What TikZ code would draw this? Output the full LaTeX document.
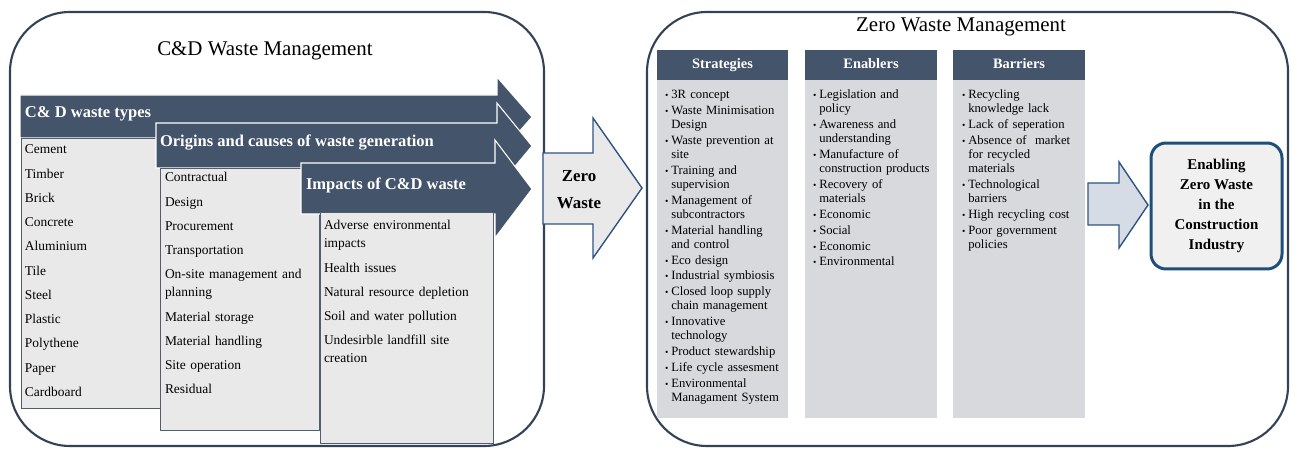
\documentclass[tikz,border=0pt]{standalone}
\usepackage{fontspec}
\usepackage{graphicx}
\setmainfont{Liberation Serif}
\usetikzlibrary{shadows}

\definecolor{slate}{RGB}{68,84,106}
\definecolor{paleGray}{RGB}{233,233,233}
\definecolor{colGray}{RGB}{216,217,220}
\definecolor{frameNavy}{RGB}{52,66,86}
\definecolor{arrowBlue}{RGB}{46,84,130}
\definecolor{paleBlue}{RGB}{214,220,229}
\definecolor{deepBlue}{RGB}{31,78,121}

\newcommand{\zbul}{\makebox[0.5em][l]{\scalebox{0.75}{\textbullet}}}
\newcommand{\zind}{\hspace*{0.5em}}

\begin{document}
\begin{tikzpicture}[
  x=0.02cm, y=-0.02cm,
  every node/.style = {inner sep=0pt, outer sep=0pt},
  bigframe/.style = {draw=frameNavy, line width=1.2pt, rounded corners=1.2cm},
  bandarrow/.style = {fill=slate, draw=white, line width=0.6pt},
  listbox/.style = {fill=paleGray, draw=frameNavy!85, line width=0.5pt},
  bandtext/.style = {anchor=base west, text=white, font=\fontsize{9.4}{11}\selectfont\bfseries},
  listtext/.style = {anchor=base west, text width=3.2cm, align=left, font=\fontsize{7.65}{10.2}\selectfont},
  titletext/.style = {anchor=base, font=\fontsize{11.9}{14}\selectfont},
  hollowarrow/.style = {fill=paleGray, draw=arrowBlue, line width=0.8pt},
  colhead/.style = {anchor=base, text=white, font=\fontsize{8.2}{10}\selectfont\bfseries},
  coltext/.style = {anchor=base west, text width=2.6cm, align=left, font=\fontsize{7.2}{7.94}\selectfont},
  goalbox/.style = {draw=deepBlue, line width=1.7pt, fill=paleGray!70, rounded corners=0.3cm,
    minimum width=2.62cm, minimum height=2.52cm, align=center,
    drop shadow={opacity=0.25, shadow xshift=0.6pt, shadow yshift=-0.6pt},
    font=\fontsize{8.5}{11.3}\selectfont\bfseries}
]
\useasboundingbox (0,0) rectangle (1294,452);

% C&D side
\draw[bigframe] (10,12) rectangle (544,446);
\node[titletext] (cdtitle) at (265,56) {C\&D Waste Management};

\draw[bandarrow] (20,95) -- (497,95) -- (497,77) -- (532,117) -- (497,157) -- (497,138) -- (20,138) -- cycle;
\draw[listbox] (21,138) rectangle (165,408);
\node[bandtext] (types) at (25,118) {C\& D waste types};
\node[listtext] (typelist) at (25,154) {Cement\\[3.6pt] Timber\\[3.6pt] Brick\\[3.6pt] Concrete\\[3.6pt]
  Aluminium\\[3.6pt] Tile\\[3.6pt] Steel\\[3.6pt] Plastic\\[3.6pt] Polythene\\[3.6pt] Paper\\[3.6pt] Cardboard};

\draw[bandarrow] (156,123) -- (497,123) -- (497,103) -- (532,146) -- (497,188) -- (497,168) -- (156,168) -- cycle;
\draw[listbox] (160,168) rectangle (319,430);
\node[bandtext] (origins) at (160,147) {Origins and causes of waste generation};
\node[listtext] (originlist) at (165,182) {Contractual\\[3.6pt] Design\\[3.6pt] Procurement\\[3.6pt] Transportation\\[3.6pt]
  On-site management and\\ planning\\[3.6pt] Material storage\\[3.6pt] Material handling\\[3.6pt]
  Site operation\\[3.6pt] Residual};

\draw[bandarrow] (301,163) -- (495,163) -- (495,140) -- (532,189) -- (495,238) -- (495,214) -- (301,214) -- cycle;
\draw[listbox] (320,212) rectangle (493,443);
\node[bandtext] (impacts) at (306,190) {Impacts of C\&D waste};
\node[listtext] (impactlist) at (324,230) {Adverse environmental\\ impacts\\[3.6pt] Health issues\\[3.6pt]
  Natural resource depletion\\[3.6pt] Soil and water pollution\\[3.6pt] Undesirble landfill site\\ creation};

% middle arrow
\draw[hollowarrow] (543,153) -- (593,153) -- (593,118) -- (642,188) -- (593,258) -- (593,224) -- (543,224) -- cycle;
\node[align=center, font=\fontsize{9.6}{15.3}\selectfont\bfseries] (zerowaste) at (579,190) {Zero\\Waste};

% zero waste side
\draw[bigframe] (647,12) rectangle (1288,446);
\node[titletext] (zwtitle) at (961,32) {Zero Waste Management};

\fill[slate] (657,50) rectangle (788,80);
\fill[colGray] (657,80) rectangle (788,418);
\node[colhead] (strategies) at (722.5,69) {Strategies};
\node[coltext] (strategylist) at (665,99) {\zbul 3R concept\\[1.1pt]
  \zbul Waste Minimisation\\ \zind Design\\[1.1pt]
  \zbul Waste prevention at\\ \zind site\\[1.1pt]
  \zbul Training and\\ \zind supervision\\[1.1pt]
  \zbul Management of\\ \zind subcontractors\\[1.1pt]
  \zbul Material handling\\ \zind and control\\[1.1pt]
  \zbul Eco design\\[1.1pt]
  \zbul Industrial symbiosis\\[1.1pt]
  \zbul Closed loop supply\\ \zind chain management\\[1.1pt]
  \zbul Innovative\\ \zind technology\\[1.1pt]
  \zbul Product stewardship\\[1.1pt]
  \zbul Life cycle assesment\\[1.1pt]
  \zbul Environmental\\ \zind Managament System};

\fill[slate] (805,50) rectangle (937,80);
\fill[colGray] (805,80) rectangle (937,418);
\node[colhead] (enablers) at (871,69) {Enablers};
\node[coltext] (enablerlist) at (813,99) {\zbul Legislation and\\ \zind policy\\[1.1pt]
  \zbul Awareness and\\ \zind understanding\\[1.1pt]
  \zbul Manufacture of\\ \zind construction products\\[1.1pt]
  \zbul Recovery of\\ \zind materials\\[1.1pt]
  \zbul Economic\\[1.1pt]
  \zbul Social\\[1.1pt]
  \zbul Economic\\[1.1pt]
  \zbul Environmental};

\fill[slate] (953,50) rectangle (1085,80);
\fill[colGray] (953,80) rectangle (1085,418);
\node[colhead] (barriers) at (1019,69) {Barriers};
\node[coltext] (barrierlist) at (962,99) {\zbul Recycling\\ \zind knowledge lack\\[1.1pt]
  \zbul Lack of seperation\\[1.1pt]
  \zbul Absence of\ \ market\\ \zind for recycled\\ \zind materials\\[1.1pt]
  \zbul Technological\\ \zind barriers\\[1.1pt]
  \zbul High recycling cost\\[1.1pt]
  \zbul Poor government\\ \zind policies};

% outcome
\draw[hollowarrow, fill=paleBlue] (1088,183) -- (1119,183) -- (1119,162) -- (1148,205) -- (1119,248) -- (1119,225) -- (1088,225) -- cycle;
\node[goalbox] (goal) at (1216.5,206) {Enabling\\Zero Waste\\in the\\Construction\\Industry};
\end{tikzpicture}
\end{document}
